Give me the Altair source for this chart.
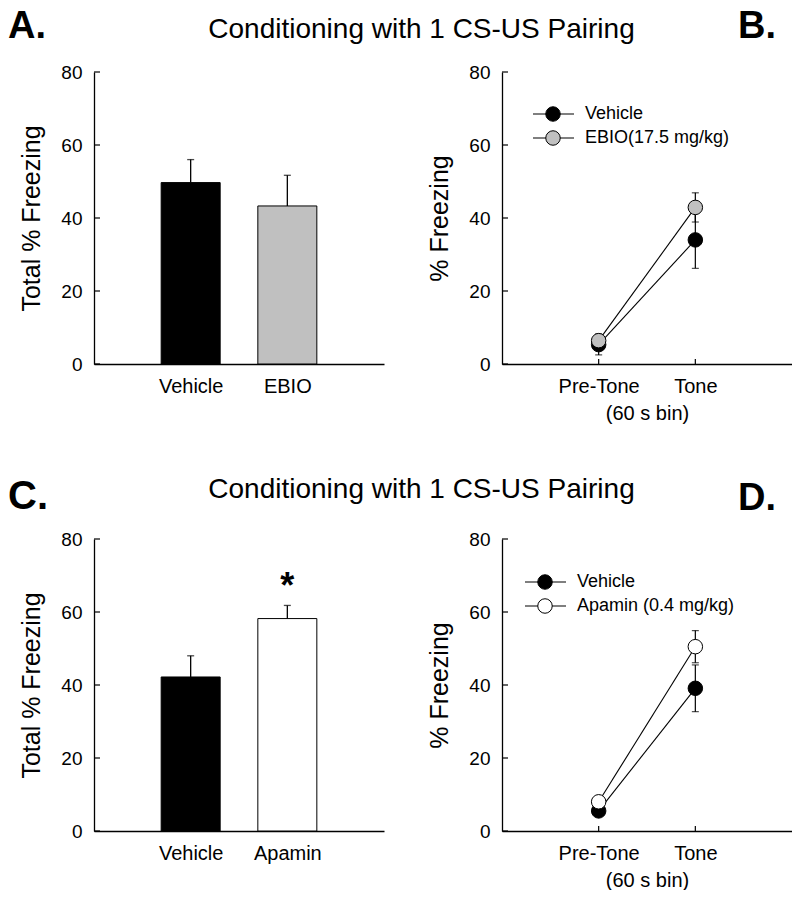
import altair as alt
import pandas as pd

# ---------------- data ----------------
y_ticks = [0, 20, 40, 60, 80]
title_text = "Conditioning with 1 CS-US Pairing"

# Panel A (bars)
a_groups = ["Vehicle", "EBIO"]
a_means = [49.7, 43.3]
a_sems = [6.3, 8.4]
a_fills = ["#000000", "#c0c0c0"]
a_marks = ["", ""]

# Panel C (bars)
c_groups = ["Vehicle", "Apamin"]
c_means = [42.2, 58.2]
c_sems = [5.8, 3.6]
c_fills = ["#000000", "#ffffff"]
c_marks = ["", "*"]

phases = ["Pre-Tone", "Tone"]

# Panel B (lines)
b_series = ["Vehicle", "EBIO(17.5 mg/kg)"]
b_vehicle = [5.3, 34.0]
b_vehicle_sem = [2.8, 7.8]
b_ebio = [6.4, 42.9]
b_ebio_sem = [1.8, 4.0]
b_fills = ["#000000", "#c0c0c0"]

# Panel D (lines)
d_series = ["Vehicle", "Apamin (0.4 mg/kg)"]
d_vehicle = [5.5, 39.1]
d_vehicle_sem = [1.5, 6.4]
d_apamin = [8.0, 50.5]
d_apamin_sem = [1.0, 4.4]
d_fills = ["#000000", "#ffffff"]

# ---------------- layout ----------------
W, H = 290, 292
FONT = "Liberation Sans"
yscale = alt.Scale(domain=[0, 80], nice=False, zero=True)


def y_axis(title):
    return alt.Axis(values=y_ticks, ticks=False, tickSize=0, labelPadding=12, labelFontSize=19,
                    title=title, titleFontSize=25, titleFontWeight="normal", titleAngle=270,
                    titleX=-55, titleY=H / 2, titleAlign="center", titleBaseline="alphabetic",
                    grid=False)


def text_layer(txt, x, y, size, weight="normal", align="left"):
    return alt.Chart(pd.DataFrame({"t": [txt]})).mark_text(
        font=FONT, fontSize=size, fontWeight=weight, align=align, baseline="alphabetic",
        color="black").encode(x=alt.value(x), y=alt.value(y), text="t:N")


def bar_panel(groups, means, sems, fills, marks, ytitle, extra):
    df = pd.DataFrame({"group": groups, "mean": means,
                       "upper": [m + s for m, s in zip(means, sems)], "mark": marks})
    base = alt.Chart(df)
    xs = alt.Scale(type="point", padding=1, domain=groups)
    xax = alt.Axis(title=None, ticks=False, tickSize=0, labelAngle=0, labelFontSize=20,
                   labelBaseline="alphabetic", labelPadding=28, grid=False)
    yax = y_axis(ytitle)
    x = alt.X("group:N", sort=groups, scale=xs, axis=xax, title=None)

    def y(field):
        return alt.Y(field, scale=yscale, axis=yax, title=ytitle, stack=None)

    bars = base.mark_bar(size=59, stroke="black", strokeWidth=1).encode(
        x=x, y=y("mean:Q"),
        fill=alt.Fill("group:N", scale=alt.Scale(domain=groups, range=fills), legend=None))
    err = base.mark_rule(color="black", strokeWidth=1.3).encode(x=x, y=y("mean:Q"), y2="upper:Q")
    cap = base.mark_tick(color="black", size=7, thickness=1.3).encode(x=x, y=y("upper:Q"))
    star = base.mark_text(font=FONT, fontSize=36, fontWeight="bold", baseline="alphabetic", dy=-7,
                          color="black").encode(x=x, y=y("upper:Q"), text="mark:N")
    yt = alt.Chart(pd.DataFrame({"v": y_ticks})).mark_rule(color="black", strokeWidth=1.2).encode(
        y=y("v:Q"), x=alt.value(0), x2=alt.value(6))
    return alt.layer(bars, err, cap, star, yt, *extra).properties(width=W, height=H)


def line_panel(series, vals_list, sems_list, fills, legend_x, legend_y0, extra):
    rows = []
    for s, vals, sems in zip(series, vals_list, sems_list):
        for p, v, e in zip(phases, vals, sems):
            rows.append({"series": s, "phase": p, "mean": v, "lo": v - e, "hi": v + e})
    df = pd.DataFrame(rows)
    base = alt.Chart(df)
    xs = alt.Scale(type="point", padding=1, domain=phases)
    xax = alt.Axis(title="(60 s bin)", titleFontSize=20, titleFontWeight="normal",
                   titleY=55, titleBaseline="alphabetic", ticks=False, tickSize=0,
                   labelAngle=0, labelFontSize=20, labelBaseline="alphabetic",
                   labelPadding=28, grid=False)
    ytitle = "% Freezing"
    yax = y_axis(ytitle)
    x = alt.X("phase:N", sort=phases, scale=xs, axis=xax, title="(60 s bin)")

    def y(field):
        return alt.Y(field, scale=yscale, axis=yax, title=ytitle)

    lines = base.mark_line(color="black", strokeWidth=1.1).encode(
        x=x, y=y("mean:Q"), detail="series:N")
    err = base.mark_rule(color="black", strokeWidth=1.2).encode(x=x, y=y("lo:Q"), y2="hi:Q")
    cap_lo = base.mark_tick(color="black", size=7, thickness=1.2).encode(x=x, y=y("lo:Q"))
    cap_hi = base.mark_tick(color="black", size=7, thickness=1.2).encode(x=x, y=y("hi:Q"))
    pts = base.mark_circle(size=210, stroke="black", strokeWidth=1, opacity=1).encode(
        x=x, y=y("mean:Q"),
        fill=alt.Fill("series:N", scale=alt.Scale(domain=series, range=fills), legend=None))
    xticks = alt.Chart(pd.DataFrame({"phase": phases})).mark_rule(color="black", strokeWidth=1.2).encode(
        x=x, y=alt.value(H), y2=alt.value(H - 5))
    yt = alt.Chart(pd.DataFrame({"v": y_ticks})).mark_rule(color="black", strokeWidth=1.2).encode(
        y=y("v:Q"), x=alt.value(0), x2=alt.value(6))
    legend = []
    for i, (s, f) in enumerate(zip(series, fills)):
        ly = legend_y0 + 24 * i
        one = alt.Chart(pd.DataFrame({"name": [s]}))
        legend.append(one.mark_rule(color="black", strokeWidth=1.1).encode(
            x=alt.value(legend_x), x2=alt.value(legend_x + 41), y=alt.value(ly)))
        legend.append(one.mark_circle(size=210, stroke="black", strokeWidth=1, opacity=1, fill=f).encode(
            x=alt.value(legend_x + 20), y=alt.value(ly)))
        legend.append(one.mark_text(font=FONT, fontSize=18, align="left", baseline="middle",
                                    color="black").encode(
            x=alt.value(legend_x + 52), y=alt.value(ly), text="name:N"))
    return alt.layer(lines, err, cap_lo, cap_hi, pts, xticks, yt, *legend, *extra).properties(
        width=W, height=H)


panel_a = bar_panel(a_groups, a_means, a_sems, a_fills, a_marks, "Total % Freezing",
                    [text_layer("A.", -86, -34, 38, "bold"),
                     text_layer(title_text, 327.5, -34, 28, align="center")])
panel_b = line_panel(b_series, [b_vehicle, b_ebio], [b_vehicle_sem, b_ebio_sem], b_fills, 31, 42,
                     [text_layer("B.", 236, -34, 38, "bold")])
panel_c = bar_panel(c_groups, c_means, c_sems, c_fills, c_marks, "Total % Freezing",
                    [text_layer("C.", -86, -30, 40, "bold"),
                     text_layer(title_text, 327.5, -41, 28, align="center")])
panel_d = line_panel(d_series, [d_vehicle, d_apamin], [d_vehicle_sem, d_apamin_sem], d_fills, 23, 43,
                     [text_layer("D.", 236, -29, 38, "bold")])

chart = alt.concat(panel_a, panel_b, panel_c, panel_d, columns=2,
                   spacing={"row": 175, "column": 118}, bounds="flush", padding=0).resolve_scale(
    fill="independent").configure(
    font=FONT).configure_axis(
    labelColor="black", titleColor="black", domainColor="black", domainWidth=1.3,
    labelFont=FONT, titleFont=FONT).configure_view(stroke=None)

chart.save("out.html", embed_options={"renderer": "svg", "actions": False})
